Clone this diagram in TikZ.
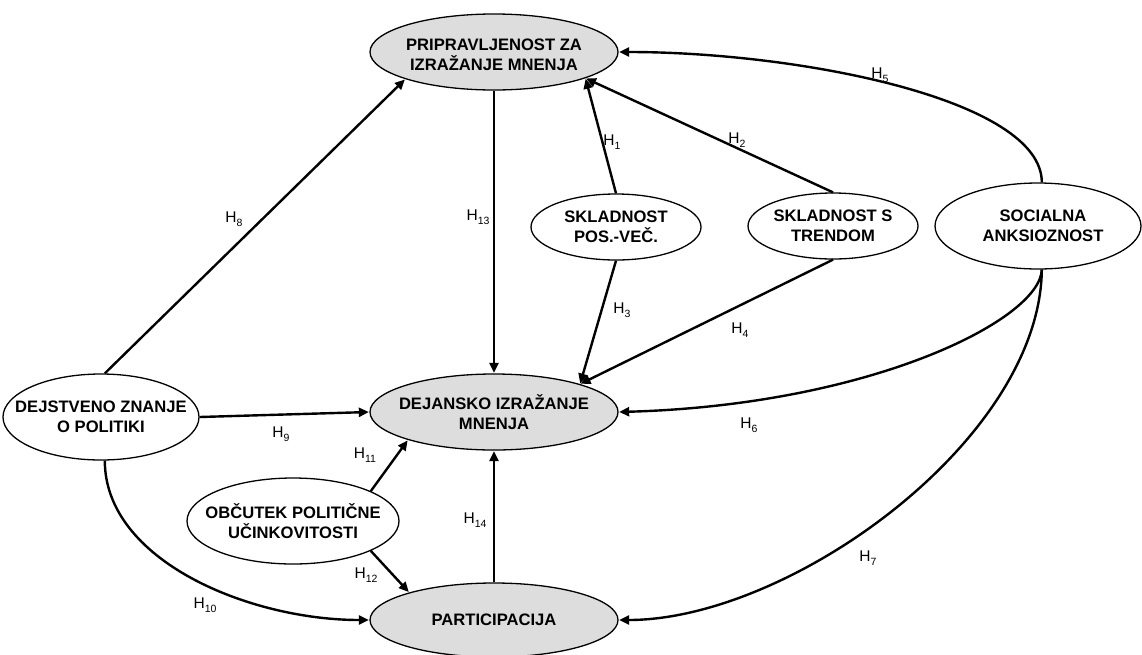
\documentclass[tikz,border=0pt]{standalone}
\usepackage{fontspec}
\setmainfont{Liberation Sans}
\usetikzlibrary{shapes.geometric,arrows.meta}
\newcommand\hyp[1]{H\raisebox{-4pt}{\fontsize{10.5}{10}\selectfont #1}}
\definecolor{ellgray}{HTML}{DDDDDD}
\tikzset{
  ell/.style={ellipse, draw=black, line width=1.3pt, inner sep=0pt},
  dv/.style={ell, fill=ellgray},
  ttl/.style={align=center, font=\fontsize{16.6}{19.8}\selectfont\bfseries, inner sep=0pt},
  hl/.style={font=\fontsize{15.5}{16}\selectfont, inner sep=0pt},
  arr/.style={line width=2.4pt, -{Triangle[length=10pt,width=9pt]}, shorten >=0.5pt}
}
\begin{document}
\begin{tikzpicture}[x=1pt,y=-1pt]
\useasboundingbox (0,0) rectangle (1142,654);
% ellipses
\node[dv, minimum width=248, minimum height=76] (pri) at (494,52) {};
\node[ttl, yshift=-3pt] (priT) at (pri) {PRIPRAVLJENOST ZA\\IZRAŽANJE MNENJA};
\node[ell, minimum width=170, minimum height=66] (sk1) at (616,227) {};
\node[ttl] (sk1T) at (sk1) {SKLADNOST\\POS.-VEČ.};
\node[ell, minimum width=170, minimum height=66] (sk2) at (833,226) {};
\node[ttl] (sk2T) at (sk2) {SKLADNOST S\\TRENDOM};
\node[ell, minimum width=206, minimum height=86] (soc) at (1038,226) {};
\node[ttl] (socT) at (1043,226) {SOCIALNA\\ANKSIOZNOST};
\node[ell, minimum width=196, minimum height=86] (znanje) at (101,417) {};
\node[ttl] (znanjeT) at (znanje) {DEJSTVENO ZNANJE\\O POLITIKI};
\node[dv, minimum width=248, minimum height=76] (dejan) at (494,412) {};
\node[ttl] (dejanT) at (dejan) {DEJANSKO IZRAŽANJE\\MNENJA};
\node[ell, minimum width=212, minimum height=86] (obc) at (293,521) {};
\node[ttl] (obcT) at (obc) {OBČUTEK POLITIČNE\\UČINKOVITOSTI};
\node[dv, minimum width=248, minimum height=74] (part) at (494,620) {};
\node[ttl] (partT) at (part) {PARTICIPACIJA};
% connectors
\draw[arr] (sk1.north) -- (pri.-16);
\draw[arr] (sk2.north) -- (pri.-16);
\draw[arr] (sk1.south) -- (dejan.18);
\draw[arr] (sk2.south) -- (dejan.18);
\draw[arr] (soc.85) .. controls +(0,-83) and +(180,0) .. (pri.east);
\draw[arr] (soc.-85) .. controls (1040,320) and (870,405) .. (dejan.east);
\draw[arr] (soc.-85) .. controls (1040,440) and (790,620) .. (part.east);
\draw[arr] (znanje.85) -- (pri.197);
\draw[arr] (znanje.east) -- (dejan.west);
\draw[arr] (znanje.-85) .. controls +(0,100) and +(-120,0) .. (part.west);
\draw[arr] (obc.21) -- (dejan.198);
\draw[arr] (obc.-21) -- (part.162);
\draw[arr] (pri.south) -- (dejan.north);
\draw[arr] (part.north) -- (dejan.south);
% labels
\node[hl] (h1) at (612,142) {\hyp{1}};
\node[hl] (h2) at (737,140) {\hyp{2}};
\node[hl] (h3) at (622,310) {\hyp{3}};
\node[hl] (h4) at (740,330) {\hyp{4}};
\node[hl] (h5) at (880,75) {\hyp{5}};
\node[hl] (h6) at (749,425) {\hyp{6}};
\node[hl] (h7) at (868,558) {\hyp{7}};
\node[hl] (h8) at (234,219) {\hyp{8}};
\node[hl] (h9) at (281,434) {\hyp{9}};
\node[hl] (h10) at (205,605) {\hyp{10}};
\node[hl] (h11) at (365,455) {\hyp{11}};
\node[hl] (h12) at (366,575) {\hyp{12}};
\node[hl] (h13) at (478,217) {\hyp{13}};
\node[hl] (h14) at (475,520) {\hyp{14}};
\end{tikzpicture}
\end{document}
